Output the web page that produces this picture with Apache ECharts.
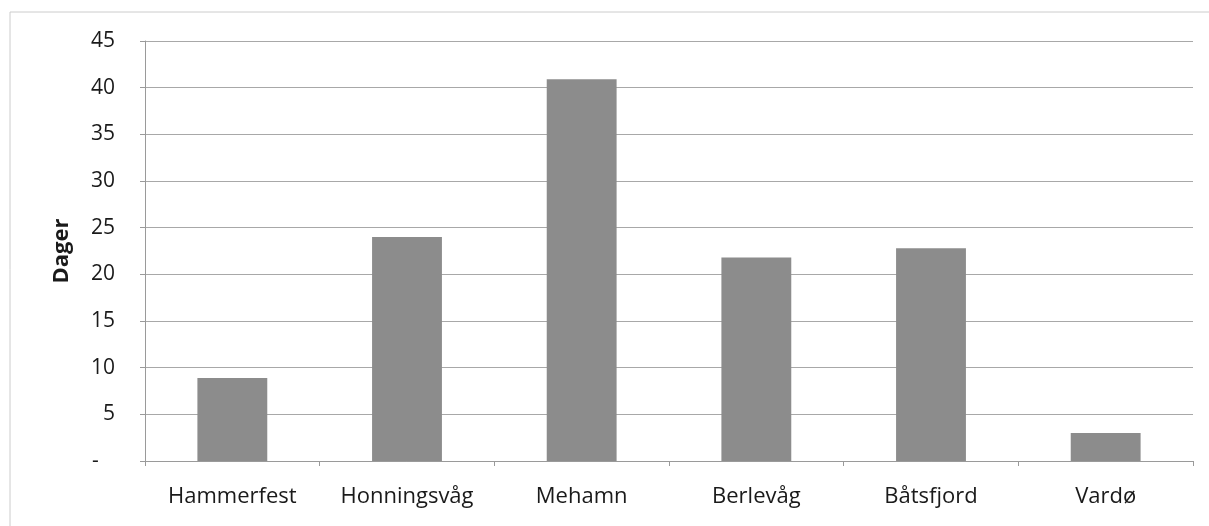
<!DOCTYPE html>
<html><head><meta charset="utf-8">
<script src="https://cdn.jsdelivr.net/npm/echarts@6/dist/echarts.min.js"></script>
<style>html,body{margin:0;padding:0;background:#fff}#c{width:1209px;height:526px}</style>
</head><body><div id="c"></div>
<script>
const categories = ['Hammerfest', 'Honningsvåg', 'Mehamn', 'Berlevåg', 'Båtsfjord', 'Vardø'];
const values = [8.9, 24.0, 40.9, 21.8, 22.8, 3.0];
const yTicks = [0, 5, 10, 15, 20, 25, 30, 35, 40, 45];
const yName = 'Dager';

const chart = echarts.init(document.getElementById('c'));
chart.setOption({
  animation: false,
  backgroundColor: '#fff',
  graphic: [{
    type: 'rect', shape: { x: 10, y: 12, width: 1205, height: 520 },
    style: { fill: 'none', stroke: '#cccccc', lineWidth: 1 }, silent: true
  }],
  grid: { left: 145, right: 16, top: 41, bottom: 65 },
  xAxis: {
    type: 'category', data: categories,
    axisLine: { lineStyle: { color: '#9a9a9a', width: 1 } },
    axisTick: { show: true, alignWithLabel: false, length: 5, lineStyle: { color: '#9a9a9a' } },
    axisLabel: { color: '#1a1a1a', fontSize: 22, fontFamily: 'Open Sans', margin: 25 }
  },
  yAxis: {
    type: 'value', min: yTicks[0], max: yTicks[yTicks.length - 1], interval: 5,
    name: yName, nameLocation: 'middle', nameGap: 72, nameRotate: 90,
    nameTextStyle: { fontSize: 22, fontWeight: 'bold', color: '#1a1a1a', fontFamily: 'Open Sans' },
    axisLine: { show: true, lineStyle: { color: '#9a9a9a' } },
    axisTick: { show: true, length: 5, lineStyle: { color: '#9a9a9a' } },
    splitLine: { lineStyle: { color: '#a8a8a8', width: 1 } },
    axisLabel: {
      color: '#1a1a1a', fontSize: 21, fontFamily: 'Open Sans', margin: 30,
      formatter: v => (v === 0 ? '-   ' : String(v))
    }
  },
  series: [{
    type: 'bar', data: values, barWidth: '40%',
    itemStyle: { color: '#8c8c8c' }
  }]
});
</script></body></html>
